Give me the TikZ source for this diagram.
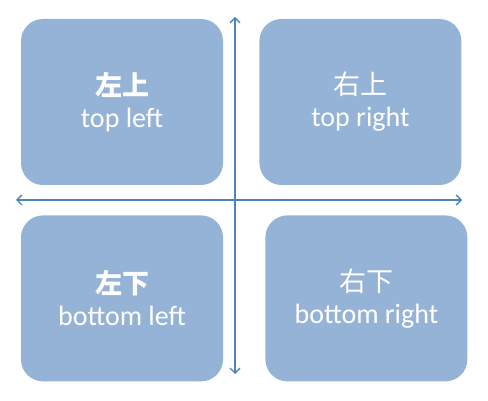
\documentclass[tikz,border=0pt]{standalone}
\usepackage{fontspec}
\setmainfont{Carlito}
\newfontfamily\cjk{Noto Sans CJK SC}
\usetikzlibrary{positioning,arrows.meta}
\definecolor{boxblue}{HTML}{95B3D7}
\definecolor{axisblue}{HTML}{4F81BD}
\newcommand{\hanzi}{\cjk\fontsize{27}{32}\selectfont}
\tikzset{quad/.style={rectangle,rounded corners=22pt,fill=boxblue,text=white,
           minimum width=202pt,minimum height=166pt,inner sep=0pt,align=center,
           font=\fontsize{28}{32}\selectfont},
         axis/.style={draw=axisblue,line width=1.4pt,{Straight Barb[length=5pt,width=10pt]}-{Straight Barb[length=5pt,width=10pt]}},
         node distance = 30pt
         }

\begin{document}
\begin{tikzpicture}[x=1pt,y=-1pt] % quadrants
        \useasboundingbox (0,0) rectangle (488,401);
        \node[quad] (tl) at (122,102) {{\hanzi\bfseries 左上}\\top left};
        \node[quad] (tr) [right=36pt of tl] {{\hanzi 右上}\\top right};
        \node[quad] (bl) [below=of tl] {{\hanzi\bfseries 左下}\\bottom left};
        \node[quad] (br) [right=42pt of bl] {{\hanzi 右下}\\bottom right};
        \coordinate (up) at (235,17);
        \coordinate (down) at (235,374);
        \coordinate (west) at (16,200);
        \coordinate (east) at (462,200);
        \draw[axis] (down) to (up);
        \draw[axis] (west) to (east);
     \end{tikzpicture}
\end{document}
